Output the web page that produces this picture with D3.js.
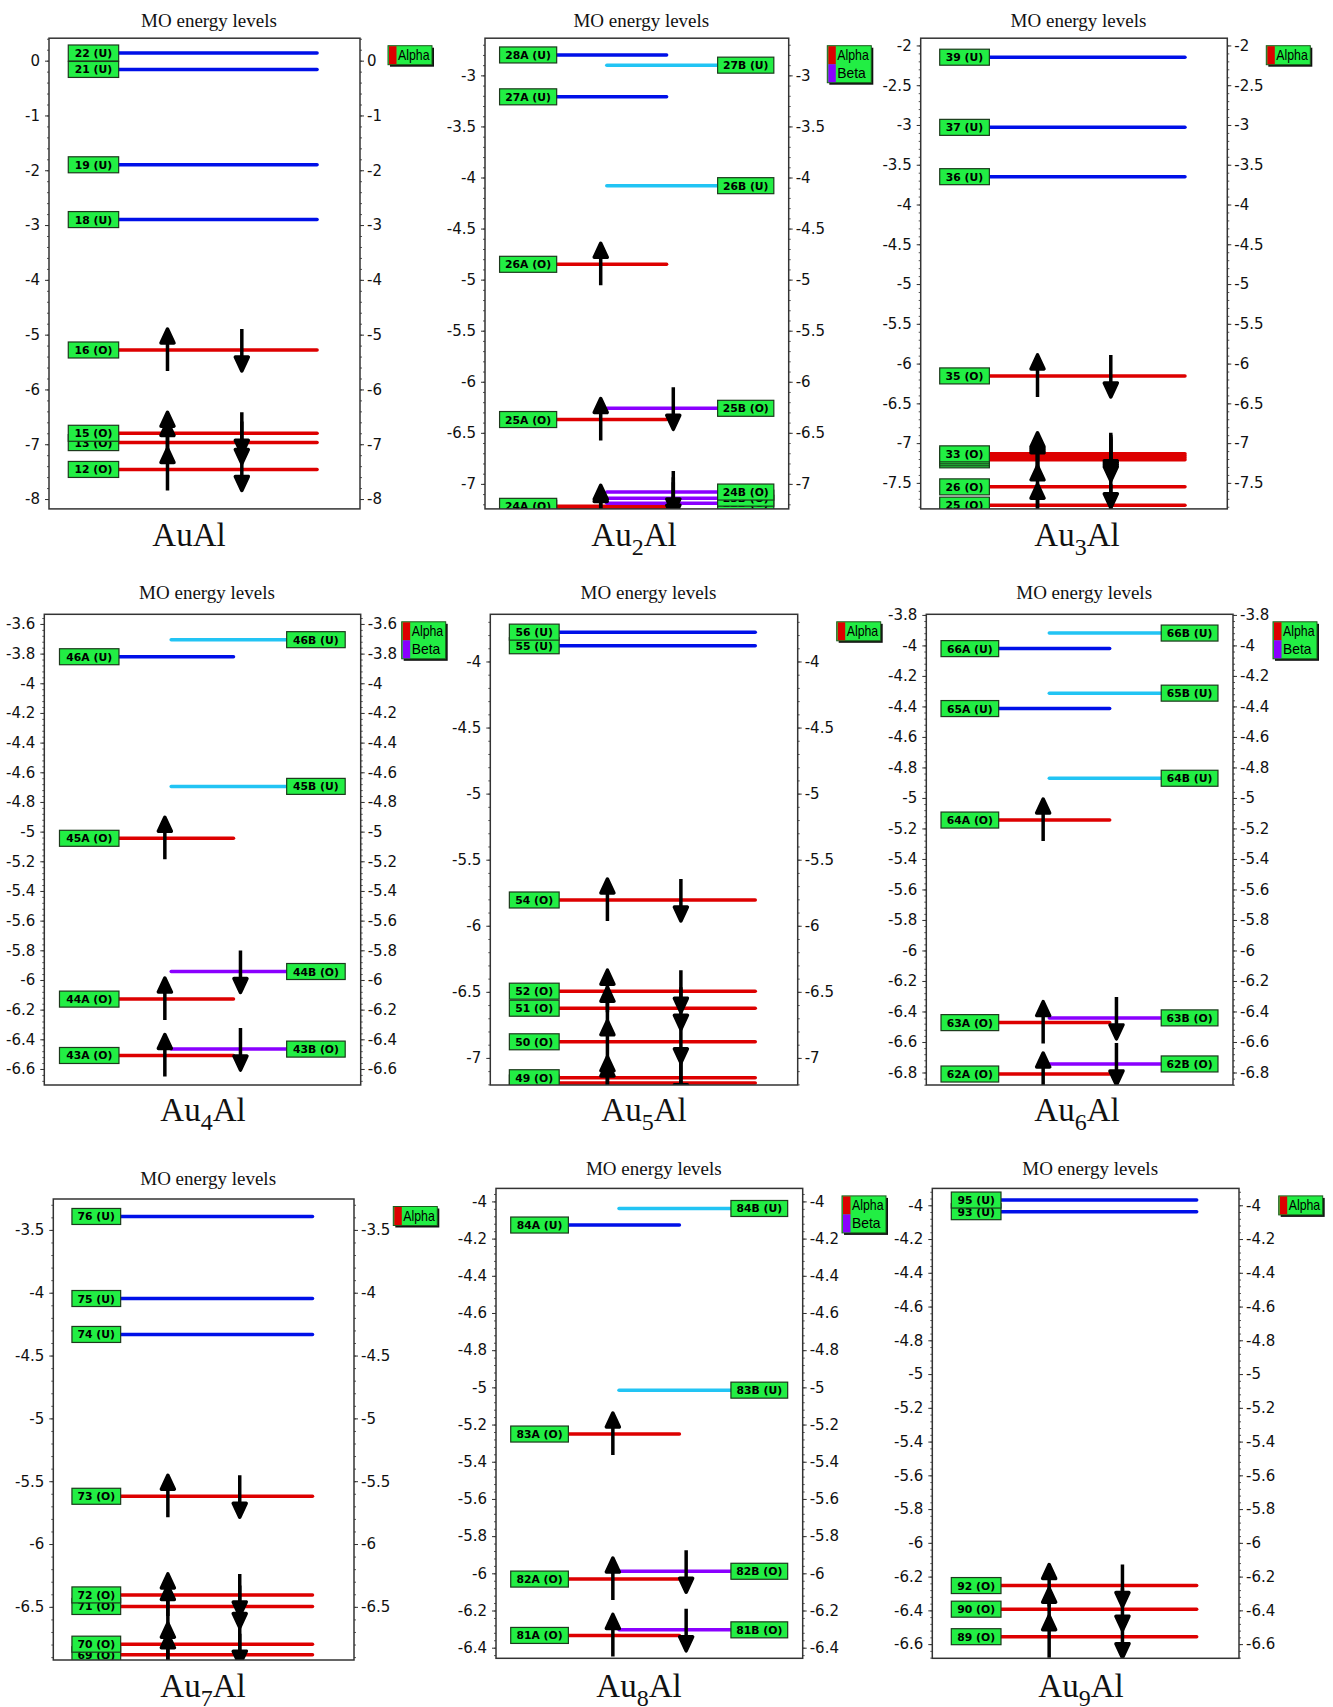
<!DOCTYPE html>
<html>
<head>
<meta charset="utf-8">
<script src="https://cdn.jsdelivr.net/npm/d3@7"></script>
<style>
  body { margin: 0; background: #fff; }
</style>
</head>
<body>
<script>
// compound names: base text + subscript count
const compounds = [
  { base: 'Au', sub: '', tail: 'Al' },
  { base: 'Au', sub: '2', tail: 'Al' },
  { base: 'Au', sub: '3', tail: 'Al' },
  { base: 'Au', sub: '4', tail: 'Al' },
  { base: 'Au', sub: '5', tail: 'Al' },
  { base: 'Au', sub: '6', tail: 'Al' },
  { base: 'Au', sub: '7', tail: 'Al' },
  { base: 'Au', sub: '8', tail: 'Al' },
  { base: 'Au', sub: '9', tail: 'Al' }
];

// orbital energies (eV), occ: O = occupied, U = unoccupied
const auAlAlpha = [
  { orb: '12', e: -7.46, occ: 'O' }, { orb: '13', e: -6.97, occ: 'O' },
  { orb: '15', e: -6.80, occ: 'O' }, { orb: '16', e: -5.28, occ: 'O' },
  { orb: '18', e: -2.90, occ: 'U' }, { orb: '19', e: -1.90, occ: 'U' },
  { orb: '21', e: -0.16, occ: 'U' }, { orb: '22', e: 0.14, occ: 'U' }
];
const au2AlAlpha = [
  { orb: '23A', e: -7.24, occ: 'O' }, { orb: '24A', e: -7.22, occ: 'O' },
  { orb: '25A', e: -6.37, occ: 'O' }, { orb: '26A', e: -4.85, occ: 'O' },
  { orb: '27A', e: -3.21, occ: 'U' }, { orb: '28A', e: -2.80, occ: 'U' }
];
const au2AlBeta = [
  { orb: '22B', e: -7.19, occ: 'O' }, { orb: '23B', e: -7.14, occ: 'O' },
  { orb: '24B', e: -7.08, occ: 'O' }, { orb: '25B', e: -6.26, occ: 'O' },
  { orb: '26B', e: -4.08, occ: 'U' }, { orb: '27B', e: -2.90, occ: 'U' }
];
const au3AlAlpha = [
  { orb: '25', e: -7.78, occ: 'O' }, { orb: '26', e: -7.55, occ: 'O' },
  { orb: '30', e: -7.21, occ: 'O' }, { orb: '31', e: -7.185, occ: 'O' },
  { orb: '32', e: -7.16, occ: 'O' }, { orb: '33', e: -7.135, occ: 'O' },
  { orb: '35', e: -6.155, occ: 'O' }, { orb: '36', e: -3.65, occ: 'U' },
  { orb: '37', e: -3.03, occ: 'U' }, { orb: '39', e: -2.148, occ: 'U' }
];
const au4AlAlpha = [
  { orb: '43A', e: -6.509, occ: 'O' }, { orb: '44A', e: -6.129, occ: 'O' },
  { orb: '45A', e: -5.045, occ: 'O' }, { orb: '46A', e: -3.821, occ: 'U' }
];
const au4AlBeta = [
  { orb: '43B', e: -6.466, occ: 'O' }, { orb: '44B', e: -5.943, occ: 'O' },
  { orb: '45B', e: -4.695, occ: 'U' }, { orb: '46B', e: -3.706, occ: 'U' }
];
const au5AlAlpha = [
  { orb: '48', e: -7.19, occ: 'O' }, { orb: '49', e: -7.15, occ: 'O' },
  { orb: '50', e: -6.878, occ: 'O' }, { orb: '51', e: -6.624, occ: 'O' },
  { orb: '52', e: -6.495, occ: 'O' }, { orb: '54', e: -5.805, occ: 'O' },
  { orb: '55', e: -3.881, occ: 'U' }, { orb: '56', e: -3.778, occ: 'U' }
];
const au6AlAlpha = [
  { orb: '62A', e: -6.81, occ: 'O' }, { orb: '63A', e: -6.473, occ: 'O' },
  { orb: '64A', e: -5.145, occ: 'O' }, { orb: '65A', e: -4.414, occ: 'U' },
  { orb: '66A', e: -4.021, occ: 'U' }
];
const au6AlBeta = [
  { orb: '62B', e: -6.744, occ: 'O' }, { orb: '63B', e: -6.442, occ: 'O' },
  { orb: '64B', e: -4.871, occ: 'U' }, { orb: '65B', e: -4.313, occ: 'U' },
  { orb: '66B', e: -3.919, occ: 'U' }
];
const au7AlAlpha = [
  { orb: '69', e: -6.881, occ: 'O' }, { orb: '70', e: -6.797, occ: 'O' },
  { orb: '71', e: -6.497, occ: 'O' }, { orb: '72', e: -6.405, occ: 'O' },
  { orb: '73', e: -5.62, occ: 'O' }, { orb: '74', e: -4.332, occ: 'U' },
  { orb: '75', e: -4.046, occ: 'U' }, { orb: '76', e: -3.393, occ: 'U' }
];
const au8AlAlpha = [
  { orb: '81A', e: -6.334, occ: 'O' }, { orb: '82A', e: -6.031, occ: 'O' },
  { orb: '83A', e: -5.251, occ: 'O' }, { orb: '84A', e: -4.127, occ: 'U' }
];
const au8AlBeta = [
  { orb: '81B', e: -6.304, occ: 'O' }, { orb: '82B', e: -5.989, occ: 'O' },
  { orb: '83B', e: -5.015, occ: 'U' }, { orb: '84B', e: -4.038, occ: 'U' }
];
const au9AlAlpha = [
  { orb: '89', e: -6.556, occ: 'O' }, { orb: '90', e: -6.393, occ: 'O' },
  { orb: '92', e: -6.253, occ: 'O' }, { orb: '93', e: -4.038, occ: 'U' },
  { orb: '95', e: -3.969, occ: 'U' }
];

// tick labels
const auAlTicks = [0, -1, -2, -3, -4, -5, -6, -7, -8];
const au2AlTicks = [-3, -3.5, -4, -4.5, -5, -5.5, -6, -6.5, -7];
const au3AlTicks = [-2, -2.5, -3, -3.5, -4, -4.5, -5, -5.5, -6, -6.5, -7, -7.5];
const au4AlTicks = [-3.6, -3.8, -4, -4.2, -4.4, -4.6, -4.8, -5, -5.2, -5.4, -5.6, -5.8, -6, -6.2, -6.4, -6.6];
const au5AlTicks = [-4, -4.5, -5, -5.5, -6, -6.5, -7];
const au6AlTicks = [-3.8, -4, -4.2, -4.4, -4.6, -4.8, -5, -5.2, -5.4, -5.6, -5.8, -6, -6.2, -6.4, -6.6, -6.8];
const au7AlTicks = [-3.5, -4, -4.5, -5, -5.5, -6, -6.5];
const au8AlTicks = [-4, -4.2, -4.4, -4.6, -4.8, -5, -5.2, -5.4, -5.6, -5.8, -6, -6.2, -6.4];
const au9AlTicks = [-4, -4.2, -4.4, -4.6, -4.8, -5, -5.2, -5.4, -5.6, -5.8, -6, -6.2, -6.4, -6.6];

// y ranges shown by each plot
const auAlDomain = [-8.18, 0.41];
const au2AlDomain = [-7.245, -2.636];
const au3AlDomain = [-7.827, -1.909];
const au4AlDomain = [-6.708, -3.535];
const au5AlDomain = [-7.205, -3.643];
const au6AlDomain = [-6.882, -3.796];
const au7AlDomain = [-6.923, -3.254];
const au8AlDomain = [-6.457, -3.930];
const au9AlDomain = [-6.684, -3.900];

const colors = {
  aO: '#dd0000', aU: '#0010e8',
  bO: '#8a00ff', bU: '#22c4f4',
  box: '#22ee44'
};

// panel placement on the page
const panels = [
  { c: compounds[0], alpha: auAlAlpha, beta: null, ticks: auAlTicks, domain: auAlDomain,
    x0: 49, x1: 360, y0: 38.2, y1: 508.9, titleY: 26.8, subX: 189, subY: 546, legX: 388 },
  { c: compounds[1], alpha: au2AlAlpha, beta: au2AlBeta, ticks: au2AlTicks, domain: au2AlDomain,
    x0: 485, x1: 788.7, y0: 38.2, y1: 508.9, titleY: 26.8, subX: 634, subY: 546, legX: 827.3 },
  { c: compounds[2], alpha: au3AlAlpha, beta: null, ticks: au3AlTicks, domain: au3AlDomain,
    x0: 920.7, x1: 1227.3, y0: 38.2, y1: 508.9, titleY: 26.8, subX: 1077, subY: 546, legX: 1266.3 },
  { c: compounds[3], alpha: au4AlAlpha, beta: au4AlBeta, ticks: au4AlTicks, domain: au4AlDomain,
    x0: 44.3, x1: 360.7, y0: 614.3, y1: 1085, titleY: 599.3, subX: 203, subY: 1121, legX: 401.7 },
  { c: compounds[4], alpha: au5AlAlpha, beta: null, ticks: au5AlTicks, domain: au5AlDomain,
    x0: 490.3, x1: 797.7, y0: 614.3, y1: 1085, titleY: 599.3, subX: 644, subY: 1121, legX: 836.7 },
  { c: compounds[5], alpha: au6AlAlpha, beta: au6AlBeta, ticks: au6AlTicks, domain: au6AlDomain,
    x0: 926.3, x1: 1233, y0: 614.3, y1: 1085, titleY: 599.3, subX: 1077, subY: 1121, legX: 1273 },
  { c: compounds[6], alpha: au7AlAlpha, beta: null, ticks: au7AlTicks, domain: au7AlDomain,
    x0: 53.3, x1: 354, y0: 1199, y1: 1660, titleY: 1185, subX: 203, subY: 1697, legX: 393.3 },
  { c: compounds[7], alpha: au8AlAlpha, beta: au8AlBeta, ticks: au8AlTicks, domain: au8AlDomain,
    x0: 496, x1: 802.7, y0: 1188.4, y1: 1658.3, titleY: 1175.4, subX: 639, subY: 1697, legX: 842 },
  { c: compounds[8], alpha: au9AlAlpha, beta: null, ticks: au9AlTicks, domain: au9AlDomain,
    x0: 932.3, x1: 1239, y0: 1188.4, y1: 1658.3, titleY: 1175.4, subX: 1081, subY: 1697, legX: 1278.7 }
];

const SANS = '"DejaVu Sans", Verdana, sans-serif';
const SERIF = '"Liberation Serif", "Times New Roman", serif';

const svg = d3.select('body').append('svg')
  .attr('width', 1333)
  .attr('height', 1707)
  .style('display', 'block');

svg.append('rect').attr('width', 1333).attr('height', 1707).attr('fill', '#fff');

const fmt = d => String(+d.toFixed(2));
const ARROW = 21;

function arrowPath(cx, cy, up) {
  const s = up ? -1 : 1;
  const tip = cy + s * ARROW;
  const base = tip - s * 14;
  return `M${cx},${cy - s * ARROW}L${cx},${base}` +
    `M${cx},${tip}L${cx + 6.5},${base}L${cx - 6.5},${base}Z`;
}

function drawPanel(p, i) {
  const g = svg.append('g');
  const y = d3.scaleLinear().domain(p.domain).range([p.y1, p.y0]);
  const x = d3.scaleLinear().domain([0, 1]).range([p.x0, p.x1]);
  const open = !!p.beta;

  const step = Math.abs(p.ticks[1] - p.ticks[0]) / 5;
  const minor = d3.range(Math.ceil(p.domain[0] / step) * step, p.domain[1], step);

  // axes on both sides
  const sides = [
    { ax: d3.axisLeft, at: p.x0, pad: 5 },
    { ax: d3.axisRight, at: p.x1, pad: 3 }
  ];
  sides.forEach(s => {
    g.append('g')
      .attr('transform', `translate(${s.at},0)`)
      .call(s.ax(y).tickValues(minor).tickSize(2).tickSizeOuter(0).tickFormat(''))
      .call(a => a.select('.domain').remove())
      .call(a => a.selectAll('line').attr('stroke', '#555'));
    g.append('g')
      .attr('transform', `translate(${s.at},0)`)
      .call(s.ax(y).tickValues(p.ticks).tickSize(4).tickSizeOuter(0).tickPadding(s.pad).tickFormat(fmt))
      .call(a => a.select('.domain').remove())
      .call(a => a.selectAll('line').attr('stroke', '#333'))
      .call(a => a.selectAll('text')
        .style('font-family', SANS)
        .style('font-size', '15px')
        .attr('fill', '#111'));
  });

  const clipId = 'clip' + i;
  g.append('clipPath').attr('id', clipId)
    .append('rect')
    .attr('x', p.x0).attr('y', p.y0)
    .attr('width', p.x1 - p.x0).attr('height', p.y1 - p.y0);

  const body = g.append('g').attr('clip-path', `url(#${clipId})`);

  let levels;
  if (!open) {
    levels = p.alpha.map(d => ({ ...d, spin: 'a', lab: [0.062, 0.224], line: [0.224, 0.862] }));
  } else {
    levels = p.alpha.map(d => ({ ...d, spin: 'a', lab: [0.048, 0.236], line: [0.236, 0.598] }))
      .concat(p.beta.map(d => ({ ...d, spin: 'b', lab: [0.766, 0.951], line: [0.401, 0.766] })));
  }
  levels.sort((a, b) => a.e - b.e);

  // level lines
  body.selectAll('line.level')
    .data(levels)
    .enter()
    .append('line')
    .attr('class', 'level')
    .attr('x1', d => x(d.line[0]))
    .attr('x2', d => x(d.line[1]))
    .attr('y1', d => y(d.e))
    .attr('y2', d => y(d.e))
    .attr('stroke', d => colors[d.spin + d.occ])
    .attr('stroke-width', 3.5)
    .attr('stroke-linecap', 'round');

  // electron arrows
  const arrows = [];
  levels.filter(d => d.occ === 'O').forEach(d => {
    if (!open || d.spin === 'a') arrows.push({ e: d.e, up: true });
    if (!open || d.spin === 'b') arrows.push({ e: d.e, up: false });
  });
  body.selectAll('path.arrow')
    .data(arrows)
    .enter()
    .append('path')
    .attr('class', 'arrow')
    .attr('d', d => arrowPath(x(d.up ? 0.381 : 0.620), y(d.e), d.up))
    .attr('fill', '#000')
    .attr('stroke', '#000')
    .attr('stroke-width', 3.5)
    .attr('stroke-linejoin', 'round');

  // orbital labels
  const lab = body.selectAll('g.lab')
    .data(levels)
    .enter()
    .append('g')
    .attr('class', 'lab');
  lab.append('rect')
    .attr('x', d => x(d.lab[0]))
    .attr('y', d => y(d.e) - 8)
    .attr('width', d => x(d.lab[1]) - x(d.lab[0]))
    .attr('height', 16)
    .attr('fill', colors.box)
    .attr('stroke', '#1c3a1c')
    .attr('stroke-width', 1.2);
  lab.append('text')
    .attr('x', d => (x(d.lab[0]) + x(d.lab[1])) / 2)
    .attr('y', d => y(d.e) + 4)
    .attr('text-anchor', 'middle')
    .style('font-family', SANS)
    .style('font-weight', 'bold')
    .style('font-size', '10.8px')
    .attr('fill', '#000')
    .text(d => `${d.orb} (${d.occ})`);

  // frame
  g.append('rect')
    .attr('x', p.x0).attr('y', p.y0)
    .attr('width', p.x1 - p.x0).attr('height', p.y1 - p.y0)
    .attr('fill', 'none')
    .attr('stroke', '#333')
    .attr('stroke-width', 1.5);

  // title
  g.append('text')
    .attr('x', (p.x0 + p.x1) / 2 + 4.5)
    .attr('y', p.titleY)
    .attr('text-anchor', 'middle')
    .style('font-family', SERIF)
    .style('font-size', '19px')
    .attr('fill', '#111')
    .text('MO energy levels');

  // compound name
  const name = g.append('text')
    .attr('x', p.subX)
    .attr('y', p.subY)
    .attr('text-anchor', 'middle')
    .style('font-family', SERIF)
    .style('font-size', '33px')
    .attr('fill', '#111');
  name.append('tspan').text(p.c.base);
  if (p.c.sub) {
    name.append('tspan').style('font-size', '24px').attr('dy', 9).text(p.c.sub);
    name.append('tspan').attr('dy', -9).text(p.c.tail);
  } else {
    name.append('tspan').text(p.c.tail);
  }

  // legend
  const rows = open ? [['Alpha', colors.aO, 31.5], ['Beta', colors.bO, 28.5]] : [['Alpha', colors.aO, 31.5]];
  const lx = p.legX, ly = p.y0 + 7.5, lw = 44, rh = 18;
  const lh = rows.length * rh + 1;
  const leg = g.append('g');
  leg.append('rect')
    .attr('x', lx + 2).attr('y', ly + 2)
    .attr('width', lw).attr('height', lh)
    .attr('fill', '#111');
  leg.append('rect')
    .attr('x', lx).attr('y', ly)
    .attr('width', lw).attr('height', lh)
    .attr('fill', colors.box)
    .attr('stroke', '#1c5a1c')
    .attr('stroke-width', 1);
  rows.forEach((r, k) => {
    leg.append('rect')
      .attr('x', lx + 1).attr('y', ly + 0.5 + k * rh)
      .attr('width', 7.5).attr('height', rh)
      .attr('fill', r[1]);
    leg.append('text')
      .attr('x', lx + 10)
      .attr('y', ly + 14 + k * rh)
      .style('font-family', '"Liberation Sans", Arial, sans-serif')
      .style('font-size', '14.5px')
      .attr('textLength', r[2])
      .attr('lengthAdjust', 'spacingAndGlyphs')
      .attr('fill', '#000')
      .text(r[0]);
  });
}

panels.forEach(drawPanel);
</script>
</body>
</html>
